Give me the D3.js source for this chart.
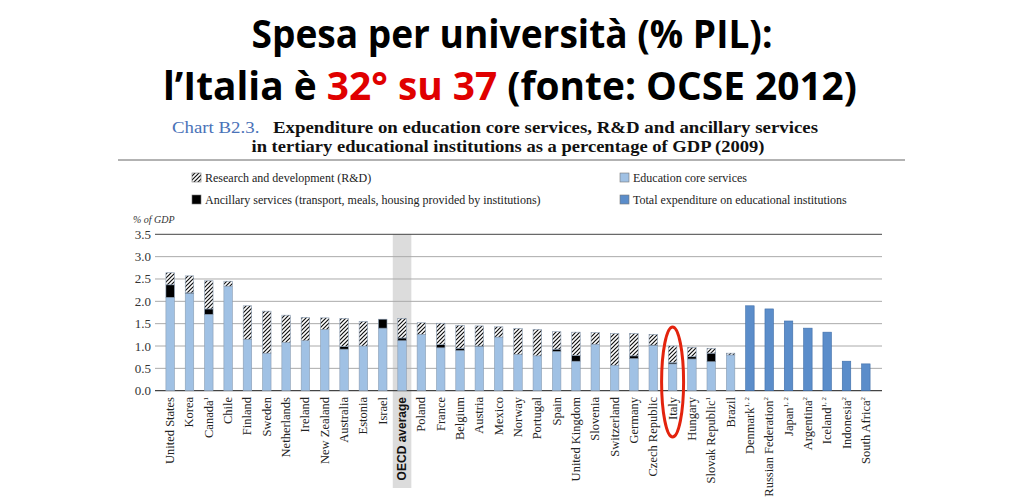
<!DOCTYPE html>
<html lang="it">
<head>
<meta charset="UTF-8">
<title>Spesa per università</title>
<script src="https://d3js.org/d3.v7.min.js"></script>
<style>
body { margin: 0; background: #fff; }
svg { display: block; }
.serif { font-family: "Liberation Serif", "DejaVu Serif", serif; }
</style>
</head>
<body>
<svg id="chart" width="1024" height="504"></svg>
<script>
// countries in chart order; footnotes = superscript marks
const countries = ["United States","Korea","Canada","Chile","Finland","Sweden","Netherlands","Ireland",
  "New Zealand","Australia","Estonia","Israel","OECD average","Poland","France","Belgium","Austria",
  "Mexico","Norway","Portugal","Spain","United Kingdom","Slovenia","Switzerland","Germany",
  "Czech Republic","Italy","Hungary","Slovak Republic","Brazil","Denmark","Russian Federation",
  "Japan","Argentina","Iceland","Indonesia","South Africa"];
const footnotes = ["","","1","","","","","","","","","","","","","","","","","","","","","","","","","","1","",
  "1, 2","2","1, 2","2","1, 2","2","2"];

// % of GDP
const coreVals = [2.09,2.18,1.71,2.34,1.15,0.84,1.08,1.12,1.37,0.93,1.00,1.40,1.12,1.26,0.96,0.90,0.99,
  1.20,0.81,0.78,0.88,0.66,1.04,0.57,0.72,1.01,0.60,0.71,0.65,0.80,0,0,0,0,0,0,0];
const ancillaryVals = [0.28,0.01,0.12,0,0,0,0,0,0,0.06,0,0.20,0.06,0,0.07,0.05,0.01,
  0,0,0,0.05,0.13,0,0,0.06,0.01,0.03,0.05,0.19,0,0,0,0,0,0,0,0];
const rdVals = [0.27,0.38,0.63,0.11,0.75,0.94,0.61,0.52,0.26,0.63,0.55,0,0.44,0.26,0.48,0.51,0.45,
  0.23,0.58,0.59,0.39,0.52,0.26,0.71,0.50,0.24,0.37,0.21,0.11,0.04,0,0,0,0,0,0,0];
const totalOnlyVals = [0,0,0,0,0,0,0,0,0,0,0,0,0,0,0,0,0,0,0,0,0,0,0,0,0,0,0,0,0,0,
  1.90,1.83,1.56,1.40,1.31,0.66,0.60];
const yTicks = [0,0.5,1,1.5,2,2.5,3,3.5];

const svg = d3.select("#chart");

// title
svg.append("text").attr("x", 512).attr("y", 48).attr("text-anchor", "middle")
  .style("font-family", "'Open Sans', sans-serif").style("font-weight", "bold").style("font-size", "40px")
  .attr("textLength", 521).attr("lengthAdjust", "spacingAndGlyphs")
  .text("Spesa per università (% PIL):");
const t2 = svg.append("text").attr("x", 510).attr("y", 100).attr("text-anchor", "middle")
  .style("font-family", "'Open Sans', sans-serif").style("font-weight", "bold").style("font-size", "40px")
  .attr("textLength", 694).attr("lengthAdjust", "spacingAndGlyphs");
t2.append("tspan").text("l’Italia è ");
t2.append("tspan").attr("fill", "#e00000").text("32° su 37");
t2.append("tspan").text(" (fonte: OCSE 2012)");

// chart heading
const h1 = svg.append("text").attr("class", "serif").attr("x", 172).attr("y", 133)
  .style("font-size", "16.5px").attr("textLength", 646).attr("lengthAdjust", "spacingAndGlyphs");
h1.append("tspan").attr("fill", "#4a72b8").text("Chart B2.3.");
h1.append("tspan").attr("dx", 12).style("font-weight", "bold").attr("fill", "#111")
  .text("Expenditure on education core services, R&D and ancillary services");
svg.append("text").attr("class", "serif").attr("x", 508).attr("y", 152).attr("text-anchor", "middle")
  .style("font-size", "16.5px").style("font-weight", "bold").attr("fill", "#111")
  .attr("textLength", 513).attr("lengthAdjust", "spacingAndGlyphs")
  .text("in tertiary educational institutions as a percentage of GDP (2009)");
svg.append("line").attr("x1", 118).attr("x2", 905).attr("y1", 160).attr("y2", 160)
  .attr("stroke", "#666").attr("stroke-width", 1);

// hatch pattern for R&D
const defs = svg.append("defs");
const pat = defs.append("pattern").attr("id", "hatch").attr("patternUnits", "userSpaceOnUse")
  .attr("width", 4).attr("height", 4);
pat.append("rect").attr("width", 4).attr("height", 4).attr("fill", "#fff");
pat.append("path").attr("d", "M-1,1 l2,-2 M0,4 l4,-4 M3,5 l2,-2").attr("stroke", "#111").attr("stroke-width", 1.2);

const colCore = "#a0c1e4", colTotal = "#5b8dca";

// legend
const legend = [
  {x: 192, y: 178, fill: "url(#hatch)", label: "Research and development (R&D)"},
  {x: 192, y: 200, fill: "#000", label: "Ancillary services (transport, meals, housing provided by institutions)"},
  {x: 620, y: 178, fill: colCore, label: "Education core services"},
  {x: 620, y: 200, fill: colTotal, label: "Total expenditure on educational institutions"}
];
legend.forEach(d => {
  svg.append("rect").attr("x", d.x).attr("y", d.y - 5).attr("width", 9).attr("height", 9)
    .attr("fill", d.fill).attr("stroke", "#777").attr("stroke-width", 0.6);
  svg.append("text").attr("class", "serif").attr("x", d.x + 13).attr("y", d.y + 4)
    .style("font-size", "12px").attr("fill", "#222").text(d.label);
});

// scales
const x = d3.scaleBand().domain(countries).range([160.5, 875.5]).paddingInner(0.56).paddingOuter(0.28);
const y = d3.scaleLinear().domain([0, 3.5]).range([390.7, 234.3]);

// OECD average band
svg.append("rect").attr("x", x("OECD average") + x.bandwidth() / 2 - 9.3).attr("y", y(3.5))
  .attr("width", 18.6).attr("height", 488 - y(3.5)).attr("fill", "#dcdcdc");

// grid
svg.append("g").selectAll("line").data(yTicks).join("line")
  .attr("x1", 155).attr("x2", 882).attr("y1", d => y(d)).attr("y2", d => y(d))
  .attr("stroke", d => d === 3.5 || d === 0 ? "#444" : "#aaa").attr("stroke-width", d => d === 0 ? 1.2 : 1);

// y axis labels
svg.append("g").selectAll("text").data(yTicks).join("text")
  .attr("class", "serif").attr("x", 151).attr("y", d => y(d) + 4.5).attr("text-anchor", "end")
  .style("font-size", "13px").attr("fill", "#333").text(d => d3.format(".1f")(d));
svg.append("text").attr("class", "serif").attr("x", 133).attr("y", 223)
  .style("font-size", "10px").style("font-style", "italic").attr("fill", "#333").text("% of GDP");

// bars
const rows = countries.map((c, i) => ({name: c, core: coreVals[i], anc: ancillaryVals[i], rd: rdVals[i], total: totalOnlyVals[i]}));
const stack = d3.stack().keys(["core", "anc", "rd", "total"])(rows);
const fills = {core: colCore, anc: "#000", rd: "url(#hatch)", total: colTotal};
const barG = svg.append("g");
stack.forEach(layer => {
  barG.append("g").selectAll("rect").data(layer.filter(d => d[1] - d[0] > 0)).join("rect")
    .attr("x", d => x(d.data.name)).attr("width", x.bandwidth())
    .attr("y", d => y(d[1])).attr("height", d => y(d[0]) - y(d[1]))
    .attr("fill", fills[layer.key])
    .attr("stroke", layer.key === "total" ? "#3f6ea8" : "#8a9db3").attr("stroke-width", 0.6);
});

// x labels (rotated)
const xl = svg.append("g").selectAll("text").data(countries).join("text")
  .attr("class", "serif")
  .attr("transform", d => `translate(${x(d) + x.bandwidth() / 2 + 4},397) rotate(-90)`)
  .attr("text-anchor", "end").style("font-size", "12.5px").attr("fill", "#222");
xl.each(function(d, i) {
  const el = d3.select(this);
  if (d === "OECD average") {
    el.style("font-family", "'Liberation Sans', sans-serif").style("font-weight", "bold")
      .attr("fill", "#111").style("font-size", "12px");
  }
  el.append("tspan").text(d);
  if (footnotes[i]) {
    el.append("tspan").attr("dy", -5).style("font-size", "7px").text(footnotes[i]);
  }
});

// red circle around Italy
svg.append("ellipse").attr("cx", x("Italy") + x.bandwidth() / 2).attr("cy", 382)
  .attr("rx", 11).attr("ry", 55).attr("fill", "none").attr("stroke", "#e3230d").attr("stroke-width", 3);
</script>
</body>
</html>
